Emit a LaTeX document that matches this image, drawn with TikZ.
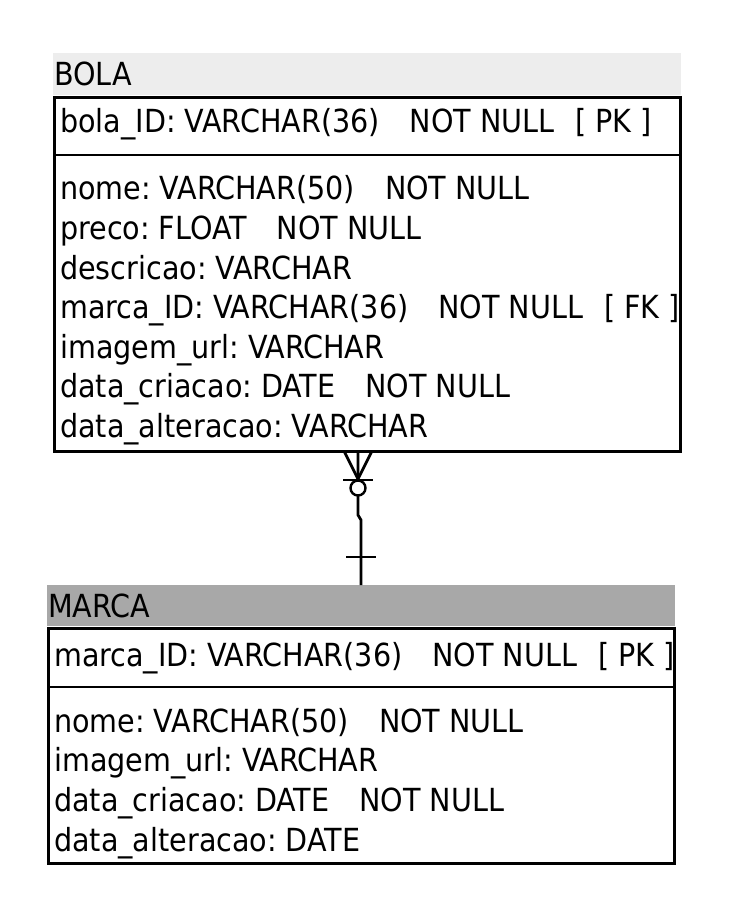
\documentclass[tikz,border=0pt]{standalone}
\usepackage{fontspec}
\setmainfont{DejaVu Sans Condensed}
\frenchspacing

\newcommand{\gapA}{\hspace{30pt}}
\newcommand{\gapB}{\hspace{21pt}}

\begin{document}
\begin{tikzpicture}[x=1pt, y=-1pt,
  campo/.style={anchor=base west, inner sep=0pt, font=\fontsize{31.8}{36}\selectfont},
  tabela/.style={draw, line width=2.8pt, anchor=north west, inner sep=0pt, minimum width=626pt},
  linha/.style={line width=2.8pt}]
  \useasboundingbox (0,0) rectangle (732,920);

  % Tabela BOLA
  \fill[black!7] (53,53) rectangle (681,95);
  \node[campo] (bolatitulo) at (54,86) {BOLA};
  \node[tabela, minimum height=354pt] (bola) at (53,96) {};
  \draw[linha] (bola.west |- 0,155) -- (bola.east |- 0,155);
  \node[campo] (bolapk) at (60,133) {bola\_ID: VARCHAR(36)\gapA NOT NULL\gapB [ PK ]};
  \foreach \t [count=\i] in {
      {nome: VARCHAR(50)\gapA NOT NULL},
      {preco: FLOAT\gapA NOT NULL},
      {descricao: VARCHAR},
      {marca\_ID: VARCHAR(36)\gapA NOT NULL\gapB [ FK ]},
      {imagem\_url: VARCHAR},
      {data\_criacao: DATE\gapA NOT NULL},
      {data\_alteracao: VARCHAR}} {
    \node[campo] (bolacampo\i) at (60,{200+39.5*(\i-1)}) {\t};
  }

  % Tabela MARCA
  \fill[black!34] (47,585) rectangle (675,626);
  \node[campo] (marcatitulo) at (48,617) {MARCA};
  \node[tabela, minimum height=235pt] (marca) at (47,627) {};
  \draw[linha] (marca.west |- 0,687) -- (marca.east |- 0,687);
  \node[campo] (marcapk) at (54,666) {marca\_ID: VARCHAR(36)\gapA NOT NULL\gapB [ PK ]};
  \foreach \t [count=\i] in {
      {nome: VARCHAR(50)\gapA NOT NULL},
      {imagem\_url: VARCHAR},
      {data\_criacao: DATE\gapA NOT NULL},
      {data\_alteracao: DATE}} {
    \node[campo] (marcacampo\i) at (54,{732+39.7*(\i-1)}) {\t};
  }

  % Relacionamento (zero ou muitos -- um)
  \coordinate (pe) at (358,451);
  \coordinate (topo) at (361,585);
  \draw[linha] (pe) -- (358,515) -- (361,520) -- (topo);
  \draw[linha] (344,451) -- (358,479) -- (372,451);
  \draw[linha] (343,480) -- (373,480);
  \draw[line width=2.4pt, fill=white] (358,488) circle (7.5);
  \draw[linha] (346,557) -- (376,557);
\end{tikzpicture}
\end{document}
